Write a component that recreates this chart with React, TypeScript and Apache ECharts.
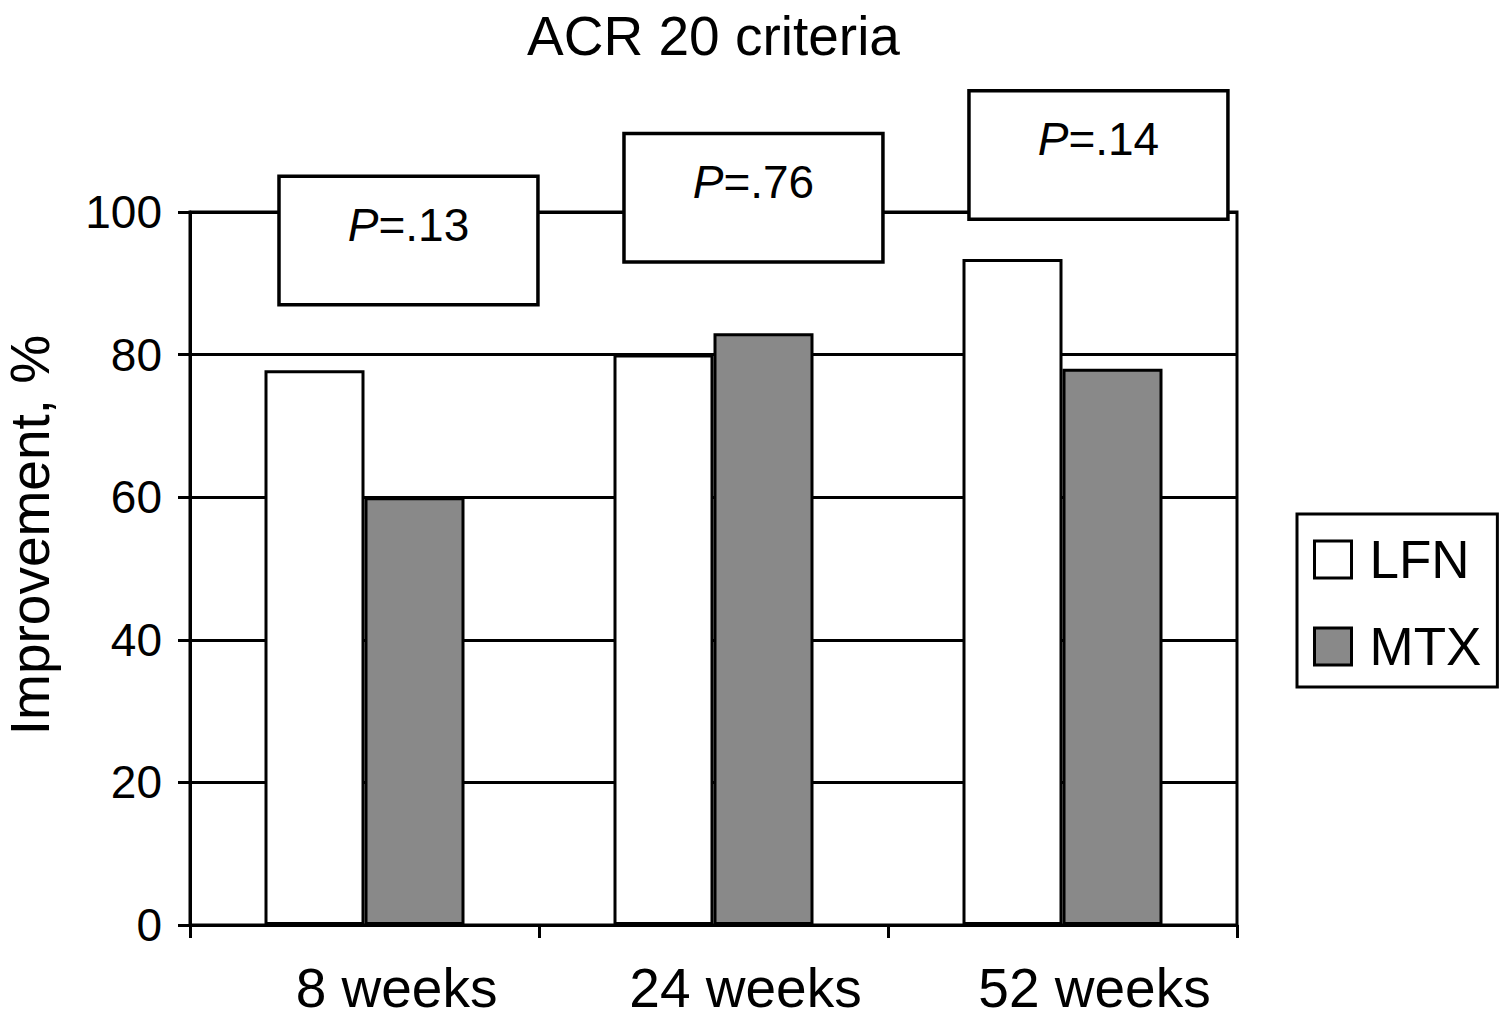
import React, { useEffect, useRef } from "react";
import * as echarts from "echarts";

const categories = ["8 weeks", "24 weeks", "52 weeks"];
const lfnValues = [77.8, 80, 93.4];
const mtxValues = [60, 83, 78];
const yTicks = { min: 0, max: 100, interval: 20 };
const pValueLabels = [".13", ".76", ".14"];
const pBoxLevels = [96, 102, 108];

const FONT = "'Liberation Sans', Arial, Helvetica, sans-serif";

export default function App() {
  const ref = useRef<HTMLDivElement>(null);
  useEffect(() => {
    if (!ref.current) return;
    const chart = echarts.init(ref.current, null, { renderer: "svg" });
    const black = "#000";
    chart.setOption({
      animation: false,
      backgroundColor: "#fff",
      textStyle: { fontFamily: FONT, color: black },
      graphic: [
        {
          type: "text",
          x: 713.5,
          y: 36,
          style: {
            text: "ACR 20 criteria",
            font: `55px ${FONT}`,
            fill: black,
            align: "center",
            verticalAlign: "middle",
          },
        },
        {
          type: "text",
          x: 30,
          y: 535,
          rotation: Math.PI / 2,
          style: {
            text: "Improvement, %",
            font: `55px ${FONT}`,
            fill: black,
            align: "center",
            verticalAlign: "middle",
          },
        },
      ],
      grid: {
        left: 190,
        right: 263,
        top: 212,
        bottom: 110,
        show: true,
        borderColor: black,
        borderWidth: 3,
        backgroundColor: "transparent",
      },
      legend: {
        data: ["LFN", "MTX"],
        orient: "vertical",
        left: 1297,
        top: 514,
        padding: [19, 16, 14, 16],
        borderColor: black,
        borderWidth: 3,
        itemWidth: 37,
        itemHeight: 37,
        itemGap: 34,
        icon: "rect",
        itemStyle: { borderColor: black, borderWidth: 3 },
        textStyle: { fontSize: 53, color: black, fontFamily: FONT, padding: [0, 0, 0, 13] },
      },
      xAxis: {
        type: "category",
        data: categories,
        axisLine: { show: true, lineStyle: { color: black, width: 3 } },
        axisTick: { show: true, length: 13, lineStyle: { color: black, width: 3 } },
        axisLabel: {
          fontSize: 55,
          color: black,
          margin: 35,
          fontFamily: FONT,
          padding: [0, 0, 0, 64],
        },
      },
      yAxis: {
        type: "value",
        min: yTicks.min,
        max: yTicks.max,
        interval: yTicks.interval,
        axisLine: { show: true, lineStyle: { color: black, width: 3 } },
        axisTick: { show: true, length: 12, lineStyle: { color: black, width: 3 } },
        axisLabel: { fontSize: 46, color: black, margin: 28, fontFamily: FONT },
        splitLine: { show: true, lineStyle: { color: black, width: 3 } },
      },
      series: [
        {
          name: "LFN",
          type: "bar",
          data: lfnValues,
          barWidth: 100,
          barGap: "0%",
          itemStyle: { color: "#ffffff", borderColor: black, borderWidth: 3 },
        },
        {
          name: "MTX",
          type: "bar",
          data: mtxValues,
          barWidth: 100,
          barGap: "0%",
          itemStyle: { color: "#898989", borderColor: black, borderWidth: 3 },
        },
        {
          name: "P values",
          type: "custom",
          clip: false,
          z: 5,
          data: pBoxLevels.map((lvl, i) => [i, lvl]),
          renderItem: (params: any, api: any) => {
            const c = api.coord([api.value(0), api.value(1)]);
            const band = api.size([1, 0])[0];
            const h = api.size([0, 18])[1];
            const w = band * 0.742;
            const cx = c[0] + band * (0.126 - 0.0115 * params.dataIndex);
            const label = pValueLabels[params.dataIndex];
            return {
              type: "group",
              children: [
                {
                  type: "rect",
                  shape: { x: cx - w / 2, y: c[1] - h / 2, width: w, height: h },
                  style: { fill: "#fff", stroke: black, lineWidth: 3.5 },
                },
                {
                  type: "text",
                  x: cx,
                  y: c[1] - 16,
                  style: {
                    text: `{i|P}=${label}`,
                    fontSize: 46,
                    fontFamily: FONT,
                    fill: black,
                    align: "center",
                    verticalAlign: "middle",
                    rich: {
                      i: { fontStyle: "italic", fontSize: 46, fontFamily: FONT, fill: black },
                    },
                  },
                },
              ],
            };
          },
        },
      ],
    });
    return () => chart.dispose();
  }, []);
  return (
    <div
      ref={ref}
      style={{ position: "absolute", left: 0, top: 0, width: 1500, height: 1035 }}
    />
  );
}
